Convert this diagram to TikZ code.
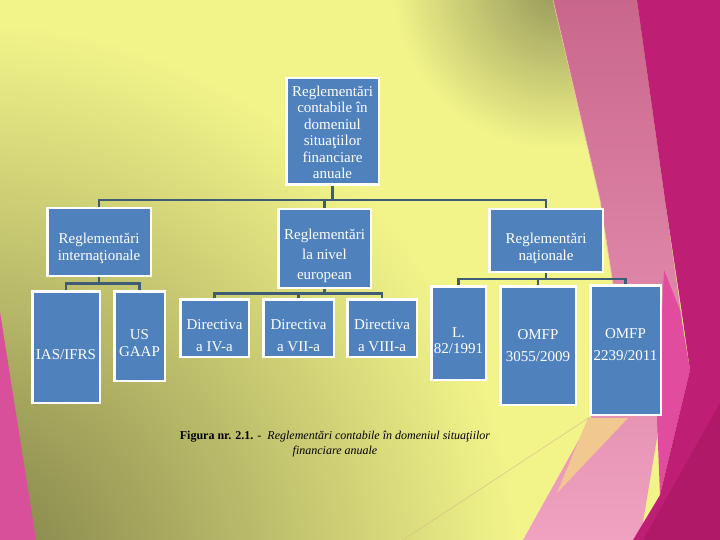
\documentclass[tikz,border=0pt]{standalone}
\usepackage{fontspec}
\setmainfont{Liberation Serif}
\definecolor{bgyellow}{RGB}{242,244,138}
\definecolor{olivedark}{RGB}{124,124,70}
\definecolor{oliveshadow}{RGB}{146,148,88}
\definecolor{dustyA}{RGB}{202,102,140}
\definecolor{dustyB}{RGB}{240,162,192}
\definecolor{magentaA}{RGB}{190,30,115}
\definecolor{magentaB}{RGB}{176,24,104}
\definecolor{hotpink}{RGB}{226,76,158}
\definecolor{peach}{RGB}{240,200,144}
\definecolor{leftpink}{RGB}{217,80,154}
\definecolor{boxblue}{RGB}{79,129,189}
\definecolor{conncol}{RGB}{62,92,118}
\pgfdeclareradialshading{darkcorner}{\pgfpoint{0bp}{0bp}}{color(0bp)=(olivedark); color(25bp)=(bgyellow); color(50bp)=(bgyellow)}
\pgfdeclareradialshading{topshadow}{\pgfpoint{0bp}{0bp}}{color(0bp)=(oliveshadow); color(25bp)=(bgyellow); color(50bp)=(bgyellow)}
\begin{document}
\begin{tikzpicture}[x=1pt,y=-1pt,
  box/.style={draw=white, line width=2.5pt, fill=boxblue, inner sep=0pt},
  boxtext/.style={text=white, align=center, inner sep=0pt, font=\fontsize{15}{#1}\selectfont},
  boxtext/.default=17,
  conn/.style={draw=conncol, line width=2.6pt}]
\useasboundingbox (0,0) rectangle (720,540);
% background
\fill[bgyellow] (0,0) rectangle (720,540);
\begin{scope}
\clip (0,0) rectangle (720,540);
\shade[shading=darkcorner] (-40,580) circle (560);
\shade[shading=topshadow] (560,-20) circle (170);
\fill[leftpink] (0,312) -- (36,540) -- (0,540) -- cycle;
\shade[top color=dustyA, bottom color=dustyB] (553,0) -- (637,0) -- (665,200) -- (682,320) -- (660,420) -- (640,540) -- (523,540) -- (590,420) -- (620,330) -- (600,200) -- cycle;
\fill[peach] (588,418) -- (628,418) -- (557,493) -- cycle;
\fill[hotpink] (664,270) -- (680,310) -- (690,370) -- (660,495) -- (657,420) -- cycle;
\fill[magentaA] (637,0) -- (720,0) -- (720,540) -- (633,540) -- (660,495) -- (690,370) -- (680,300) -- (665,200) -- cycle;
\fill[magentaB] (643,540) -- (720,403) -- (720,540) -- cycle;
\draw[color={rgb,255:red,240;green,200;blue,170}, line width=0.6pt] (553,0) -- (600,200) -- (620,330);
\draw[color={rgb,255:red,214;green,194;blue,136}, line width=0.5pt] (403,540) -- (590,417);
\end{scope}
% boxes
\node[box, minimum width=92.5pt, minimum height=106.5pt] (top) at (332.5,131.5) {};
\node[box, minimum width=103.5pt, minimum height=67.5pt] (intl) at (99,242) {};
\node[box, minimum width=92.5pt, minimum height=78.5pt] (euro) at (324.5,248.5) {};
\node[box, minimum width=113.5pt, minimum height=62.5pt] (natl) at (546,240.5) {};
\node[box, minimum width=67.5pt, minimum height=111.5pt] (ias) at (66,347) {};
\node[box, minimum width=50.5pt, minimum height=89.5pt] (gaap) at (139.5,336) {};
\node[box, minimum width=68.5pt, minimum height=57.5pt] (d4) at (214.5,328) {};
\node[box, minimum width=70.5pt, minimum height=57.5pt] (d7) at (298.5,328) {};
\node[box, minimum width=69.5pt, minimum height=57.5pt] (d8) at (382,328) {};
\node[box, minimum width=54.5pt, minimum height=93.5pt] (l82) at (458.5,333) {};
\node[box, minimum width=75.5pt, minimum height=118.5pt] (o3055) at (538,345.5) {};
\node[box, minimum width=70.5pt, minimum height=129.5pt] (o2239) at (625.5,350) {};
% box texts
\node[boxtext=16.5] (topt) at ([yshift=-1pt]top.center) {Reglementări\\contabile în\\domeniul\\situaţiilor\\financiare\\anuale};
\node[boxtext=17] (intlt) at ([yshift=-6.5pt]intl.center) {Reglementări\\internaţionale};
\node[boxtext=20] (eurot) at ([yshift=-7.5pt]euro.center) {Reglementări\\la nivel\\european};
\node[boxtext=17] (natlt) at ([yshift=-8pt]natl.center) {Reglementări\\naţionale};
\node[boxtext] (iast) at ([yshift=-8pt]ias.center) {IAS/IFRS};
\node[boxtext=17] (gaapt) at ([yshift=-7.5pt]gaap.center) {US\\GAAP};
\node[boxtext=22] (d4t) at ([yshift=-8pt]d4.center) {Directiva\\a IV-a};
\node[boxtext=22] (d7t) at ([yshift=-8pt]d7.center) {Directiva\\a VII-a};
\node[boxtext=22] (d8t) at ([yshift=-8pt]d8.center) {Directiva\\a VIII-a};
\node[boxtext=16] (l82t) at ([yshift=-7.5pt]l82.center) {L.\\82/1991};
\node[boxtext=22] (o3055t) at ([yshift=0pt]o3055.center) {OMFP\\3055/2009};
\node[boxtext=22] (o2239t) at ([yshift=5pt]o2239.center) {OMFP\\2239/2011};
% connector levels
\coordinate (b1) at (0,200);
\coordinate (b2) at (0,283.5);
\coordinate (b3) at (0,293.5);
\coordinate (b4) at (0,279);
\draw[conn] (top.south) -- (top.south |- b1);
\draw[conn] (intl.north) -- (intl.north |- b1) -- (natl.north |- b1) -- (natl.north);
\draw[conn] (euro.north) -- (euro.north |- b1);
\draw[conn] (intl.south) -- (intl.south |- b2);
\draw[conn] (ias.north) -- (ias.north |- b2) -- (gaap.north |- b2) -- (gaap.north);
\draw[conn] (euro.south) -- (euro.south |- b3);
\draw[conn] (d4.north) -- (d4.north |- b3) -- (d8.north |- b3) -- (d8.north);
\draw[conn] (d7.north) -- (d7.north |- b3);
\draw[conn] (natl.south) -- (natl.south |- b4);
\draw[conn] (l82.north) -- (l82.north |- b4) -- (o2239.north |- b4) -- (o2239.north);
\draw[conn] (o3055.north) -- (o3055.north |- b4);
% caption
\node[align=center, font=\fontsize{12}{15}\selectfont, inner sep=0pt] (cap) at (335,444) {\textbf{Figura nr. 2.1.} - \ \textit{Reglementări contabile în domeniul situaţiilor}\\\textit{financiare anuale}};
\end{tikzpicture}
\end{document}
